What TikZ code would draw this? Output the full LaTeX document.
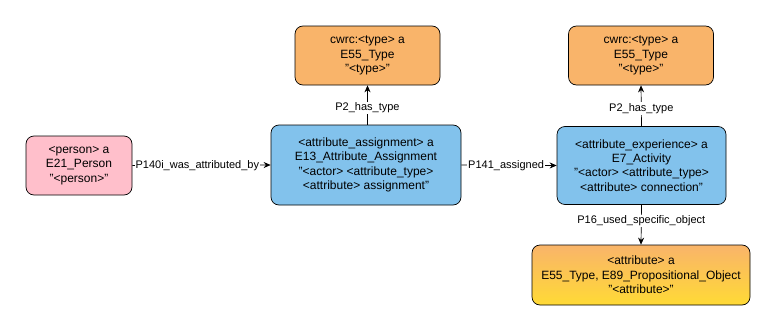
\documentclass[tikz,border=0pt]{standalone}
\usepackage{fontspec}
\setmainfont{Liberation Sans}
\usetikzlibrary{arrows.meta}
\definecolor{pinkfill}{HTML}{FFBFCB}
\definecolor{bluefill}{HTML}{82C2EC}
\definecolor{orangefill}{HTML}{F9B46A}
\definecolor{gradtop}{HTML}{F9B46A}
\definecolor{gradbot}{HTML}{FFDA35}
\begin{document}
\begin{tikzpicture}[x=1pt,y=-1pt,
  box/.style={draw=black, line width=0.7pt, rounded corners=8pt, align=center, inner sep=0pt,
    font=\fontsize{12}{14.4}\selectfont},
  conn/.style={draw=black, line width=0.7pt, -{Stealth[length=7pt,width=6pt]}},
  elabel/.style={fill=white, inner sep=1pt, font=\fontsize{11}{13}\selectfont}]
\useasboundingbox (0,0) rectangle (776,332);
\node[box, fill=pinkfill, minimum width=106pt, minimum height=59pt] (person) at (79,165.5)
  {<person> a\\E21\_Person\\"<person>"};
\node[box, fill=bluefill, minimum width=190pt, minimum height=80pt] (assign) at (366,165)
  {<attribute\_assignment> a\\E13\_Attribute\_Assignment\\"<actor> <attribute\_type>\\<attribute> assignment"};
\node[box, fill=bluefill, minimum width=169pt, minimum height=78pt] (exper) at (641.5,165.5)
  {<attribute\_experience> a\\E7\_Activity\\"<actor> <attribute\_type>\\<attribute> connection"};
\node[box, fill=orangefill, minimum width=145pt, minimum height=59pt] (type1) at (367.5,55.5)
  {cwrc:<type> a\\E55\_Type\\"<type>"};
\node[box, fill=orangefill, minimum width=145pt, minimum height=59pt] (type2) at (641,55.5)
  {cwrc:<type> a\\E55\_Type\\"<type>"};
\node[box, top color=gradtop, bottom color=gradbot, minimum width=218pt, minimum height=60pt] (attr) at (641,275)
  {<attribute> a\\E55\_Type, E89\_Propositional\_Object\\"<attribute>"};
\draw[conn] (person.east) -- node[elabel, pos=0.47] {P140i\_was\_attributed\_by} (assign.west);
\draw[conn] (assign.east) -- node[elabel, pos=0.47] {P141\_assigned} (exper.west);
\draw[conn] (assign.north -| type1.south) -- node[elabel, pos=0.43] {P2\_has\_type} (type1.south);
\draw[conn] (exper.north) -- node[elabel, pos=0.43] {P2\_has\_type} (type2.south);
\draw[conn] (exper.south) -- node[elabel, pos=0.4] {P16\_used\_specific\_object} (attr.north);
\end{tikzpicture}
\end{document}
